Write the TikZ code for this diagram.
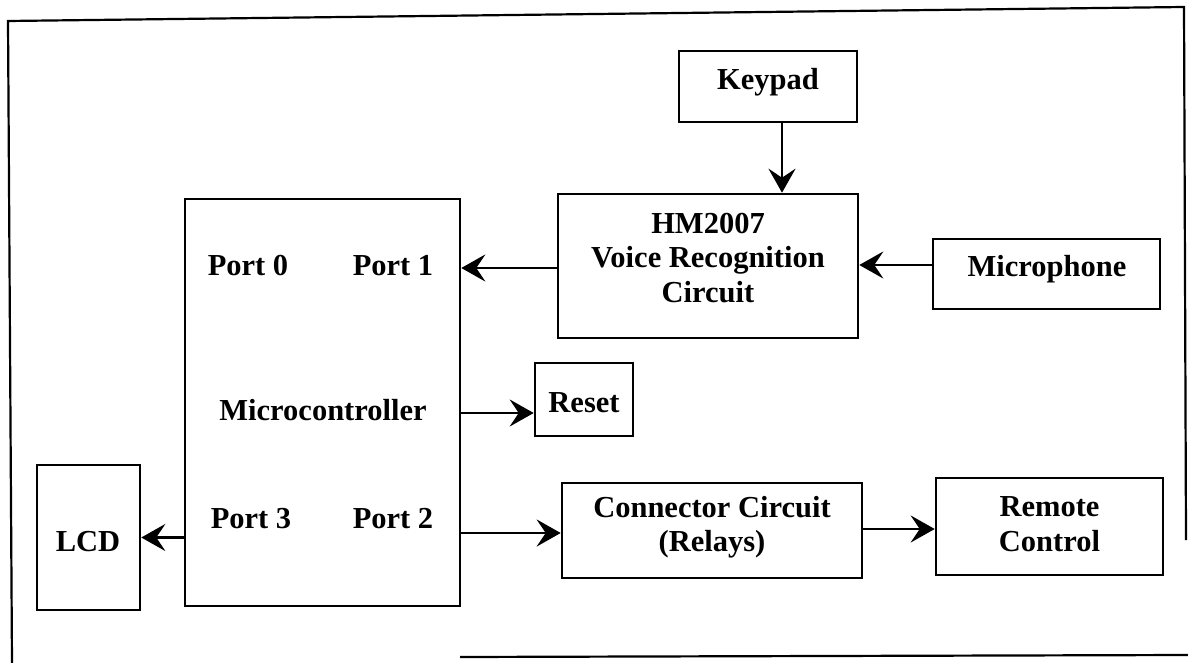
\documentclass[tikz,border=0pt]{standalone}
\usepackage{fontspec}
\setmainfont{Liberation Serif}
\usetikzlibrary{arrows.meta,calc}

\tikzset{
  blk/.style={draw, line width=2.6pt, rectangle, inner sep=0pt},
  lbl/.style={font=\bfseries\fontsize{30.5}{34.5}\selectfont, align=center, inner sep=0pt},
  sig/.style={line width=2.6pt, -{Stealth[length=24pt,width=27pt,inset=9pt]}},
  frame/.style={line width=2.2pt}
}

\begin{document}
\begin{tikzpicture}[x=1pt,y=-1pt]
\useasboundingbox (0,0) rectangle (1188,663);

% outer border (open at the lower left)
\draw[frame] (12,663) -- (8,21) -- (1184,7) -- (1186,540);
\draw[frame] (460,657) -- (1188,655);

% blocks
\node[blk, minimum width=178pt, minimum height=71pt]  (keypad) at (768,86.5)   {};
\node[blk, minimum width=300pt, minimum height=144pt] (hm)     at (708,266)    {};
\node[blk, minimum width=227pt, minimum height=70pt]  (mic)    at (1046.5,274) {};
\node[blk, minimum width=275pt, minimum height=407pt] (mcu)    at (322.5,402.5){};
\node[blk, minimum width=98pt,  minimum height=73pt]  (reset)  at (584,399.5)  {};
\node[blk, minimum width=103pt, minimum height=145pt] (lcd)    at (88.5,537.5) {};
\node[blk, minimum width=300pt, minimum height=95pt]  (conn)   at (712,530.5)  {};
\node[blk, minimum width=227pt, minimum height=97pt]  (remote) at (1049.5,526.5){};

% texts
\node[lbl] (tkey)   at (768,82)    {Keypad};
\node[lbl] (thm)    at (708,258)   {HM2007\\Voice Recognition\\Circuit};
\node[lbl] (tmic)   at (1047,269)  {Microphone};
\node[lbl] (tp0)    at (248,266)   {Port 0};
\node[lbl] (tp1)    at (393,266)   {Port 1};
\node[lbl] (tmcu)   at (323,410)   {Microcontroller};
\node[lbl] (tp3)    at (251,519)   {Port 3};
\node[lbl] (tp2)    at (393,519)   {Port 2};
\node[lbl] (treset) at (584,403)   {Reset};
\node[lbl] (tlcd)   at (88,542)    {LCD};
\node[lbl] (tconn)  at (712,527)   {Connector Circuit\\(Relays)};
\node[lbl] (trem)   at (1049.5,524){Remote\\Control};

% arrow entry points that sit off the block centres
\coordinate (hmtop) at ($(hm.north)+(74,0)$);
\coordinate (keyout) at (hmtop |- keypad.south);
\coordinate (micout) at ($(mic.west)+(0,-9)$);
\coordinate (hmout) at ($(hm.west)+(0,2)$);
\coordinate (rstin) at ($(reset.west)+(0,13.5)$);
\coordinate (conin) at ($(conn.west)+(0,2.5)$);
\coordinate (remin) at ($(remote.west)+(0,2.5)$);

% connections
\draw[sig] (keyout) -- (hmtop);
\draw[sig] (micout) -- (micout -| hm.east);
\draw[sig] (hmout) -- (hmout -| mcu.east);
\draw[sig] (rstin -| mcu.east) -- (rstin);
\draw[sig] (lcd.east -| mcu.west) -- (lcd.east);
\draw[sig] (conin -| mcu.east) -- (conin);
\draw[sig] (remin -| conn.east) -- (remin);
\end{tikzpicture}
\end{document}
